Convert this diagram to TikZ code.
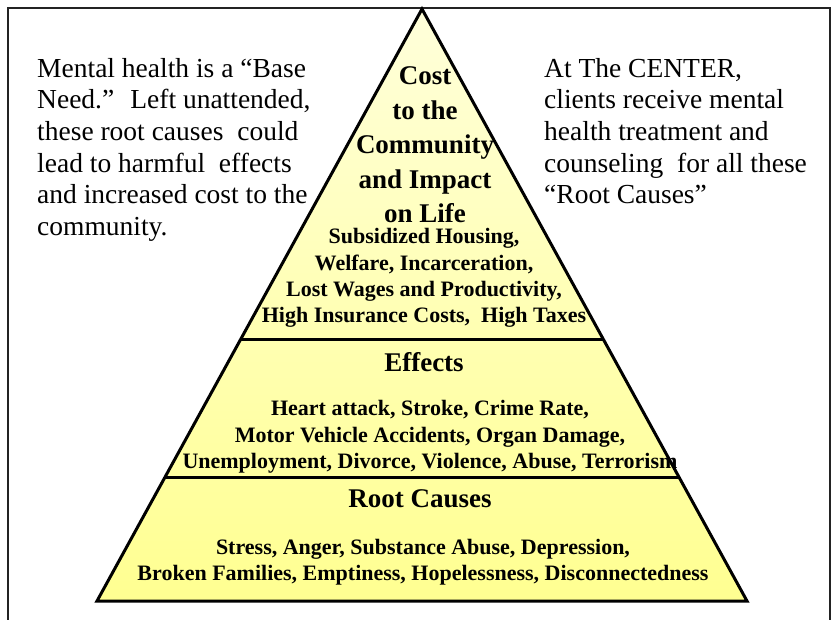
\documentclass[tikz,border=0pt]{standalone}
\usepackage{fontspec}
\setmainfont{Liberation Serif}
\usetikzlibrary{calc}
\definecolor{pyrtop}{RGB}{255,255,218}
\definecolor{pyrmid}{RGB}{255,255,160}
\definecolor{pyrbot}{RGB}{255,255,145}
\definecolor{framecol}{RGB}{35,35,35}
\begin{document}
\begin{tikzpicture}[x=1pt,y=-1pt,
  sidetext/.style={anchor=north west, align=left, inner sep=0pt, font=\fontsize{27.5}{31.6}\selectfont},
  headtext/.style={align=center, inner sep=0pt, font=\fontsize{27}{34.5}\selectfont\bfseries},
  listtext/.style={align=center, inner sep=0pt, font=\fontsize{22}{26.3}\selectfont\bfseries},
  pyr/.style={draw=black, line width=3pt, shading=axis, top color=pyrtop, middle color=pyrmid, bottom color=pyrbot},
  divider/.style={draw=black, line width=3pt},
  frameline/.style={draw=framecol, line width=1.6pt}]
\useasboundingbox (0,0) rectangle (837,619);
% frame
\coordinate (fbl) at (8,630);
\coordinate (ftl) at (8,8);
\coordinate (ftr) at (830,8);
\coordinate (fbr) at (830,630);
\draw[frameline] (fbl) -- (ftl) -- (ftr) -- (fbr);
% pyramid
\coordinate (apex) at (422,9);
\coordinate (bl) at (97,601);
\coordinate (br) at (747,601);
\path[pyr] (apex) -- (bl) -- (br) -- cycle;
\coordinate (d1l) at ($(apex)!0.559!(bl)$);
\coordinate (d1r) at ($(apex)!0.559!(br)$);
\coordinate (d2l) at ($(apex)!0.792!(bl)$);
\coordinate (d2r) at ($(apex)!0.792!(br)$);
\draw[divider] (d1l) -- (d1r);
\draw[divider] (d2l) -- (d2r);
% side texts
\node[sidetext] (lefttext) at (37,58) {Mental health is a “Base\\Need.”~ Left unattended,\\these root causes~ could\\lead to harmful~ effects\\and increased cost to the\\community.};
\node[sidetext] (righttext) at (544,58) {At The CENTER,\\clients receive mental\\health treatment and\\counseling~ for all these\\“Root Causes”};
% pyramid texts
\node[headtext] (costhead) at (425,145) {Cost\\to the\\Community\\and Impact\\on Life};
\node[listtext] (costlist) at (424,278) {Subsidized Housing,\\Welfare, Incarceration,\\Lost Wages and Productivity,\\High Insurance Costs,~ High Taxes};
\node[headtext] (effhead) at (424,362) {Effects};
\node[listtext] (efflist) at (430,437) {Heart attack, Stroke, Crime Rate,\\Motor Vehicle Accidents, Organ Damage,\\Unemployment, Divorce, Violence, Abuse, Terrorism};
\node[headtext] (roothead) at (420,499) {Root Causes};
\node[listtext] (rootlist) at (423,562) {Stress, Anger, Substance Abuse, Depression,\\Broken Families, Emptiness, Hopelessness, Disconnectedness};
\end{tikzpicture}
\end{document}
